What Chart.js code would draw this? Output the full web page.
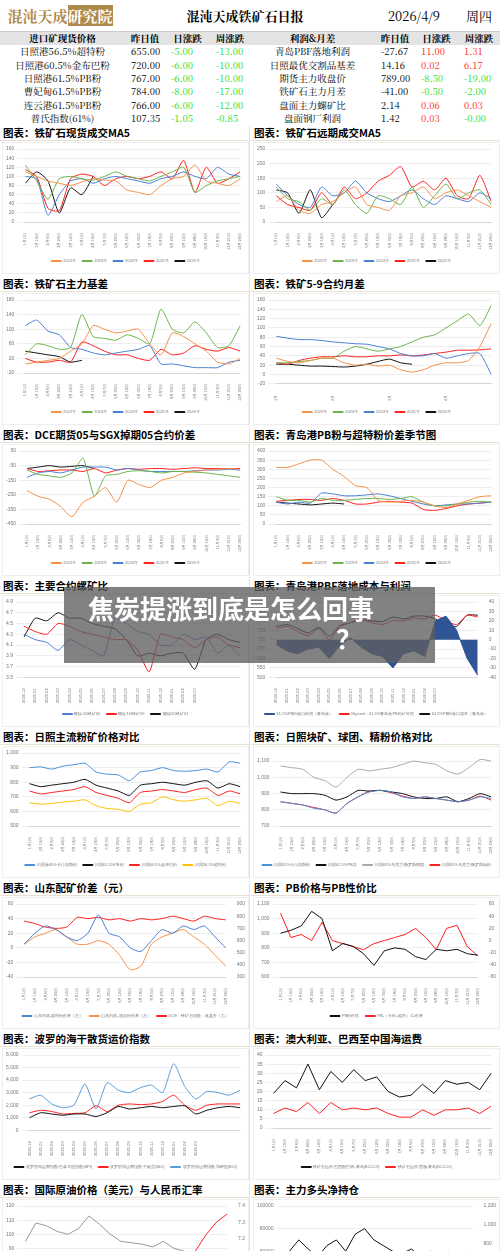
<!DOCTYPE html>
<html>
<head>
<meta charset="utf-8">
<script src="https://cdn.jsdelivr.net/npm/chart.js@4.4.1/dist/chart.umd.min.js"></script>
<style>
  body { margin:0; width:500px; height:1251px; overflow:hidden; background:#fff; font-family:"Noto Sans CJK SC", sans-serif; position:relative; }
  table { border-collapse:collapse; width:500px; table-layout:fixed; font-family:"Noto Serif CJK SC","Noto Sans CJK SC",serif; }
  td { font-size:9.5px; height:13.3px; line-height:13px; padding:0; text-align:center; white-space:nowrap; overflow:hidden; }
  .top td { height:31px; line-height:31px; font-size:13px; font-weight:bold; border-bottom:1px solid #ccc; }
  .hd td { background:#e4e4e4; font-weight:bold; }
  .g { color:#22dd22; } .r { color:#ff2222; }
  .num { text-align:left; padding-left:6px; }
  .grid { position:absolute; top:126px; left:0; width:500px; }
  .panel { position:absolute; width:249px; height:150px; }
  .title { height:14px; font-size:10.5px; font-weight:bold; line-height:14px; padding-left:3px; border-bottom:1px solid #e8e0d0; font-family:"Noto Sans CJK SC",sans-serif; }
  .box { position:absolute; top:16px; left:2px; width:245px; height:130px; border:1px solid #eee; }
  .overlay { position:absolute; left:64px; top:587px; width:371px; height:76px; background:rgba(95,95,95,0.78); color:#fff; font-weight:bold; font-size:26px; line-height:30px; }
</style>
</head>
<body>
<table>
  <tr class="top">
    <td style="width:120px;color:#b08a4a;font-size:15px;">混沌天成<span style="background:#b08a4a;color:#fff;">研究院</span></td>
    <td style="width:250px;">混沌天成铁矿石日报</td>
    <td style="width:88px;font-weight:normal;">2026/4/9</td>
    <td style="width:42px;font-weight:normal;">周四</td>
  </tr>
</table>
<table id="tbl">
  <colgroup><col style="width:125px"><col style="width:40px"><col style="width:45px"><col style="width:40px"><col style="width:125px"><col style="width:40px"><col style="width:43px"><col style="width:42px"></colgroup>
</table>
<div class="grid" id="grid"></div>
<div class="overlay"><div style="padding:6px 0 0 24px;">焦炭提涨到底是怎么回事</div><div style="padding-left:272px;">？</div></div>
<script>
// table rows
const spotNames = ["日照港56.5%超特粉", "日照港60.5%金布巴粉", "日照港61.5%PB粉", "曹妃甸61.5%PB粉", "连云港61.5%PB粉", "普氏指数(61%)"];
const spotPrev = ["655.00", "720.00", "767.00", "784.00", "766.00", "107.35"];
const spotDay = ["-5.00", "-6.00", "-6.00", "-8.00", "-6.00", "-1.05"];
const spotWeek = ["-13.00", "-10.00", "-10.00", "-17.00", "-12.00", "-0.85"];
const profitNames = ["青岛PBF落地利润", "日照最优交割品基差", "期货主力收盘价", "铁矿石主力月差", "盘面主力螺矿比", "盘面钢厂利润"];
const profitPrev = ["-27.67", "14.16", "789.00", "-41.00", "2.14", "1.42"];
const profitDay = ["11.00", "0.02", "-8.50", "-0.50", "0.06", "0.03"];
const profitWeek = ["1.31", "6.17", "-19.00", "-2.00", "0.03", "-0.00"];

const tbl = document.getElementById("tbl");
const cls = (v) => (v.startsWith("-") ? "g" : "r");
tbl.insertAdjacentHTML("beforeend",
  '<tr class="hd"><td>进口矿现货价格</td><td>昨日值</td><td>日涨跌</td><td>周涨跌</td><td>利润&月差</td><td>昨日值</td><td>日涨跌</td><td>周涨跌</td></tr>');
for (let i = 0; i < 6; i++) {
  tbl.insertAdjacentHTML("beforeend",
    `<tr><td>${spotNames[i]}</td><td class="num">${spotPrev[i]}</td><td class="num ${cls(spotDay[i])}">${spotDay[i]}</td><td class="num ${cls(spotWeek[i])}">${spotWeek[i]}</td>` +
    `<td>${profitNames[i]}</td><td class="num">${profitPrev[i]}</td><td class="num ${cls(profitDay[i])}">${profitDay[i]}</td><td class="num ${cls(profitWeek[i])}">${profitWeek[i]}</td></tr>`);
}

// chart data
const dayLabels = ["1月1日","1月19日","2月6日","2月24日","3月14日","4月1日","4月19日","5月7日","5月25日","6月12日","6月30日","7月18日","8月5日","8月23日","9月10日","9月28日","10月16日","11月3日","11月21日","12月29日"];
const yearNames = ["2022年", "2023年", "2024年", "2025年", "2026年"];
const yearColors = ["#f4914a", "#6ab44a", "#4a7fd4", "#ff2020", "#111111"];

const c1 = [
  [110,100,90,85,80,88,95,92,90,70,65,60,80,95,100,125,90,85,80,95],
  [125,90,50,95,100,95,92,100,110,100,95,90,100,110,120,65,80,90,95,100],
  [100,95,15,60,90,95,85,95,100,95,90,85,95,100,110,100,95,120,105,100],
  [115,100,30,25,95,105,100,80,95,100,95,100,110,95,135,65,120,85,95,110],
  [85,110,90,20,75,60,100,null,null,null,null,null,null,null,null,null,null,null,null,null]
];
const c2 = [
  [70,90,40,30,60,70,100,120,60,50,40,90,100,120,80,100,110,90,70,50],
  [120,80,70,40,80,60,110,60,30,90,80,60,120,50,90,130,80,100,110,60],
  [130,90,60,50,120,90,100,140,100,80,70,90,110,80,60,90,80,70,100,80],
  [90,60,50,40,100,60,120,80,100,140,160,190,120,140,110,150,90,80,160,70],
  [110,100,30,110,15,60,null,null,null,null,null,null,null,null,null,null,null,null,null,null]
];
const c3 = [
  [5,10,15,20,40,60,110,100,90,95,100,60,30,90,80,60,40,10,5,20],
  [30,60,55,45,50,140,80,75,70,85,75,60,155,100,90,120,90,50,55,110],
  [110,125,95,85,50,45,35,30,35,40,45,55,5,5,0,-5,-5,-5,10,15],
  [20,10,10,15,10,65,55,40,30,30,20,15,45,30,35,55,45,40,50,40],
  [40,35,30,25,10,15,null,null,null,null,null,null,null,null,null,null,null,null,null,null]
];
const monthLabels = ["1月","","","","","2月","","","","","3月","","","","","4月","","","",""];
const c4 = [
  [35,28,25,30,35,35,25,20,22,18,20,10,5,10,20,25,25,30,60,110],
  [25,25,28,30,35,35,50,60,55,50,55,60,70,80,85,100,115,130,105,148],
  [82,78,75,75,73,70,68,66,65,60,55,45,40,40,45,35,40,45,45,0],
  [25,22,30,35,38,38,40,38,38,40,40,42,40,42,45,48,52,52,53,55],
  [22,22,20,18,18,17,16,18,22,28,33,25,22,null,null,null,null,null,null,null]
];
const c5 = [
  [-220,-260,-280,-330,-400,-300,-260,-200,-300,-150,-180,-200,-150,-130,-100,-90,-80,-75,-70,-75],
  [-80,-110,-120,-130,-100,0,-260,-120,-110,-90,-85,-90,-100,-90,-90,-95,-100,-110,-120,-130],
  [-130,-100,-90,-100,-80,-60,-60,-60,-80,-70,-80,-90,-90,-90,-90,-85,-80,-80,-75,-80],
  [-70,-90,-85,-80,-80,-90,-70,-100,-80,-70,-75,-70,-70,-75,-70,-65,-70,-70,-70,-70],
  [-70,-60,-50,-60,-55,-50,-70,null,null,null,null,null,null,null,null,null,null,null,null,null]
];
const c6 = [
  [310,310,330,350,350,300,260,210,200,130,120,125,130,120,100,90,110,130,150,155],
  [150,130,130,120,140,130,130,135,140,140,135,140,150,120,100,100,110,120,125,120],
  [120,110,120,115,170,165,155,155,160,165,155,140,125,110,100,105,110,110,115,120],
  [125,130,135,135,130,140,130,110,110,120,125,120,115,80,75,85,100,110,115,120],
  [120,115,110,105,110,115,110,null,null,null,null,null,null,null,null,null,null,null,null,null]
];

const monthDates = ["2024-12","2025-01","2025-02","2025-03","2025-04","2025-05","2025-06","2025-07","2025-08","2025-09","2025-10","2025-11","2025-12","2026-01","2026-02","2026-03","","","",""];
const c7_05 = [4.3,4.2,4.15,4.0,4.2,4.1,4.0,3.9,4.6,4.5,4.35,4.3,4.1,4.1,4.3,4.2,4.25,3.95,4.1,3.9];
const c7_09 = [4.45,4.35,4.3,4.5,4.45,4.35,4.3,4.25,4.2,4.2,4.0,3.6,4.3,4.25,4.2,4.05,4.2,4.25,4.1,4.05];
const c7_01 = [4.25,4.6,4.55,4.7,4.6,4.6,4.5,4.45,4.4,4.2,3.9,3.95,3.9,3.95,3.95,3.65,4.2,4.3,4.2,4.15];

const c8_profit = [-5,-12,-15,-10,-8,-20,-6,2,-8,-15,-18,-30,-15,-12,-18,20,25,10,-20,-38];
const c8_price = [760,770,745,720,760,700,770,790,810,790,780,800,800,815,810,830,800,780,830,820];
const c8_cost = [770,780,760,735,765,720,775,790,805,800,795,820,810,825,825,810,775,770,830,830];

const c9_kabi = [900,905,890,910,920,930,870,855,850,810,870,880,900,880,875,880,890,870,940,930];
const c9_pb = [790,770,780,790,800,820,780,760,740,710,780,790,800,790,780,800,810,760,790,770];
const c9_jbb = [740,720,730,740,750,770,730,710,690,660,730,740,750,740,730,750,760,710,740,720];
const c9_cht = [660,650,655,665,670,680,640,620,615,600,650,660,700,680,670,680,690,640,670,655];

const c10_pellet = [1070,1060,1050,1000,980,940,1000,1050,1040,1050,1060,1080,1100,1090,1080,1040,1020,1060,1110,1100];
const c10_lump = [910,900,900,900,890,860,880,920,915,920,910,900,880,870,870,880,850,870,900,880];
const c10_conc1 = [850,840,830,810,800,780,840,880,910,920,910,880,870,880,870,860,850,860,880,870];
const c10_conc2 = [850,840,830,815,800,780,840,880,915,920,905,885,870,880,870,860,850,860,885,860];

const c11_blue = [5,20,30,25,15,10,20,45,20,15,0,-5,10,25,20,30,25,30,15,0];
const c11_orange = [5,15,20,25,15,5,5,10,5,-10,-30,-25,5,15,20,25,15,5,-10,-25];
const c11_red = [760,740,710,700,710,790,780,790,770,780,760,780,770,780,800,780,760,800,780,770];

const c12_price = [900,920,950,1050,1000,780,830,810,760,680,780,800,790,740,720,790,780,790,760,750];
const c12_ratio = [45,5,10,0,30,0,-5,-10,-15,-5,0,5,10,20,5,-15,20,25,-10,-25];

const c13_bpi = [1000,1400,1300,1200,1300,1300,1100,1400,1900,1700,1800,1900,1800,1900,1950,1300,1600,1800,1900,1800];
const c13_bdi = [1400,1600,1500,1300,1350,1400,1950,1500,2000,2100,2050,2100,2300,2800,2000,1600,2000,2100,2100,2100];
const c13_bci = [2500,2800,2100,1800,2000,3700,1700,3800,3200,3000,3400,3600,3000,5300,3500,2500,3100,3000,2800,3200];

const c14_brazil = [19,26,22,35,21,31,25,32,26,28,20,17,18,24,19,26,24,25,21,30];
const c14_aus = [8,11,9,14,8,14,10,11,10,11,8,6,6,10,7,10,10,11,8,12];

const c15_oil = [95,108,106,102,100,104,113,107,100,95,94,93,91,95,90,88,86,84,80,75];
const c15_fx = [null,null,null,null,null,null,null,null,null,null,null,null,null,null,null,7.0,7.12,7.22,7.3,7.35];

const c16_net = [60000,70000,62000,55000,65000,70000,60000,75000,80000,70000,65000,60000,58000,62000,55000,60000,58000,60000,55000,60000];
const c16_bar = [0,0,200,400,500,350,450,0,0,0,0,0,0,100,0,150,200,100,250,100];
const c16_yel = [null,null,300,350,300,250,null,null,null,null,null,null,null,null,null,null,null,null,null,null];

// layout helpers
const titles = [
  "图表：铁矿石现货成交MA5", "图表：铁矿石远期成交MA5",
  "图表：铁矿石主力基差", "图表：铁矿5-9合约月差",
  "图表：DCE期货05与SGX掉期05合约价差", "图表：青岛港PB粉与超特粉价差季节图",
  "图表：主要合约螺矿比", "图表：青岛港PBF落地成本与利润",
  "图表：日照主流粉矿价格对比", "图表：日照块矿、球团、精粉价格对比",
  "图表：山东配矿价差（元）", "图表：PB价格与PB性价比",
  "图表：波罗的海干散货运价指数", "图表：澳大利亚、巴西至中国海运费",
  "图表：国际原油价格（美元）与人民币汇率", "图表：主力多头净持仓"
];
const grid = document.getElementById("grid");
const canvases = titles.map((t, i) => {
  const p = document.createElement("div");
  p.className = "panel";
  p.style.left = (i % 2 ? 251 : 0) + "px";
  p.style.top = Math.floor(i / 2) * 151 + "px";
  p.style.borderRight = i % 2 ? "" : "1px solid #e8e0d0";
  const tall = i >= 14 ? "height:170px;" : "";
  p.innerHTML = `<div class="title">${t}</div><div class="box" style="${tall}"><canvas></canvas></div>`;
  grid.appendChild(p);
  return p.querySelector("canvas");
});

Chart.defaults.font.size = 5;
Chart.defaults.color = "#777";
Chart.defaults.animation = false;

const line = (label, data, color, extra) =>
  Object.assign({ label, data, borderColor: color, backgroundColor: color, borderWidth: 1, pointRadius: 0, tension: 0.2, yAxisID: "y" }, extra || {});

const yearSets = (arr) => arr.map((d, i) => line(yearNames[i], d, yearColors[i]));

function draw(idx, labels, datasets, y, y1) {
  const scales = {
    x: { grid: { display: false }, ticks: { maxRotation: 90, minRotation: 90, autoSkip: false, font: { size: 4 } } },
    y: Object.assign({ grid: { color: "#eee" }, border: { display: false }, ticks: { font: { size: 5 } } }, y),
  };
  if (y1) scales.y1 = Object.assign({ position: "right", grid: { display: false }, border: { display: false }, ticks: { font: { size: 5 } } }, y1);
  new Chart(canvases[idx], {
    type: "line",
    data: { labels, datasets },
    options: {
      responsive: true, maintainAspectRatio: false,
      plugins: { legend: { position: "bottom", labels: { boxWidth: 10, boxHeight: 1, padding: 6, font: { size: 4 } } } },
      scales,
    },
  });
}

draw(0, dayLabels, yearSets(c1), { min: 0, max: 160, ticks: { stepSize: 20 } });
draw(1, dayLabels, yearSets(c2), { min: 0, max: 250, ticks: { stepSize: 50 } });
draw(2, dayLabels, yearSets(c3), { min: -20, max: 180, ticks: { stepSize: 20 } });
draw(3, monthLabels, yearSets(c4), { min: -20, max: 160, ticks: { stepSize: 20 } });
draw(4, dayLabels, yearSets(c5), { min: -450, max: 50, ticks: { stepSize: 50 } });
draw(5, dayLabels, yearSets(c6), { min: 0, max: 400, ticks: { stepSize: 50 } });
draw(6, monthDates, [
  line("螺纹05/铁矿05", c7_05, "#4a7fd4"),
  line("螺纹10/铁矿09", c7_09, "#ff2020"),
  line("螺纹01/铁矿01", c7_01, "#111"),
], { min: 3.5, max: 4.9, ticks: { stepSize: 0.2 } });
draw(7, monthDates, [
  line("61.5%PB粉港口利润（青岛港）", c8_profit, "#2f5597", { yAxisID: "y1", fill: "origin", backgroundColor: "#2f5597", tension: 0 }),
  line("Mysteel：61.5%青岛港PB粉矿价格", c8_price, "#ff2020"),
  line("61.5%PB粉港口成本（青岛港）", c8_cost, "#111"),
], { min: 500, max: 900, ticks: { stepSize: 50 } }, { min: -40, max: 40, ticks: { stepSize: 10 } });
draw(8, dayLabels, [
  line("日照港65%卡拉加斯粉", c9_kabi, "#4a90d9"),
  line("日照61.5%PB粉", c9_pb, "#111"),
  line("日照60.5%金布巴粉", c9_jbb, "#ff2020"),
  line("日照56.5%超特粉", c9_cht, "#ffc000"),
], { min: 500, max: 1000, ticks: { stepSize: 50 } });
draw(9, dayLabels, [
  line("日照65%卡拉加斯粉", c10_conc1, "#4a90d9"),
  line("日照62.5%PB块", c10_lump, "#111"),
  line("日照65%乌克兰/俄罗斯球团", c10_pellet, "#aaa"),
  line("日照65%乌克兰/俄罗斯精粉", c10_conc2, "#ff2020"),
], { min: 700, max: 1150, ticks: { stepSize: 50 } });
draw(10, dayLabels, [
  line("山东内陆-超特粉价差（左）", c11_blue, "#4a7fd4"),
  line("山东内陆-混合粉价差（左）", c11_orange, "#f4914a"),
  line("DCE：铁矿石指数：收盘价（右）", c11_red, "#ff2020", { yAxisID: "y1" }),
], { min: -40, max: 60, ticks: { stepSize: 20 } }, { min: 300, max: 900, ticks: { stepSize: 100 } });
draw(11, dayLabels, [
  line("PB粉价格", c12_price, "#111", { tension: 0 }),
  line("PB-（卡粉+超特）/2-价差", c12_ratio, "#ff2020", { yAxisID: "y1", tension: 0 }),
], { min: 600, max: 1100, ticks: { stepSize: 50 } }, { min: -60, max: 60, ticks: { stepSize: 20 } });
draw(12, monthDates, [
  line("波罗的海运费指数:巴拿马型指数(BPI)", c13_bpi, "#111"),
  line("波罗的海运费指数:干散货(BDI)", c13_bdi, "#ff2020"),
  line("波罗的海运费指数:海岬型(BCI)", c13_bci, "#5b9bd5"),
], { min: 0, max: 6000, ticks: { stepSize: 1000 } });
draw(13, dayLabels, [
  line("铁矿石运价:巴西图巴朗-青岛(BCI-C3)", c14_brazil, "#111", { tension: 0 }),
  line("铁矿石运价:西澳-青岛(BCI-C5)", c14_aus, "#ff2020", { tension: 0 }),
], { min: 0, max: 40, ticks: { stepSize: 5 } });
draw(14, dayLabels, [
  line("布伦特原油", c15_oil, "#999", { tension: 0 }),
  line("美元兑人民币", c15_fx, "#ff2020", { yAxisID: "y1", tension: 0 }),
], { min: 40, max: 120, ticks: { stepSize: 10 } }, { min: 6.7, max: 7.4, ticks: { stepSize: 0.1 } });
draw(15, dayLabels, [
  line("净持仓", c16_net, "#111", { tension: 0 }),
  { type: "bar", label: "多头增仓", data: c16_bar, backgroundColor: "#c00000", yAxisID: "y1", barPercentage: 1, categoryPercentage: 1 },
  line("空头增仓", c16_yel, "#ffc000", { yAxisID: "y1" }),
], { min: 0, max: 100000, ticks: { stepSize: 20000, callback: (v) => String(v) } }, { min: 0, max: 1200, ticks: { stepSize: 200 } });
</script>
</body>
</html>
